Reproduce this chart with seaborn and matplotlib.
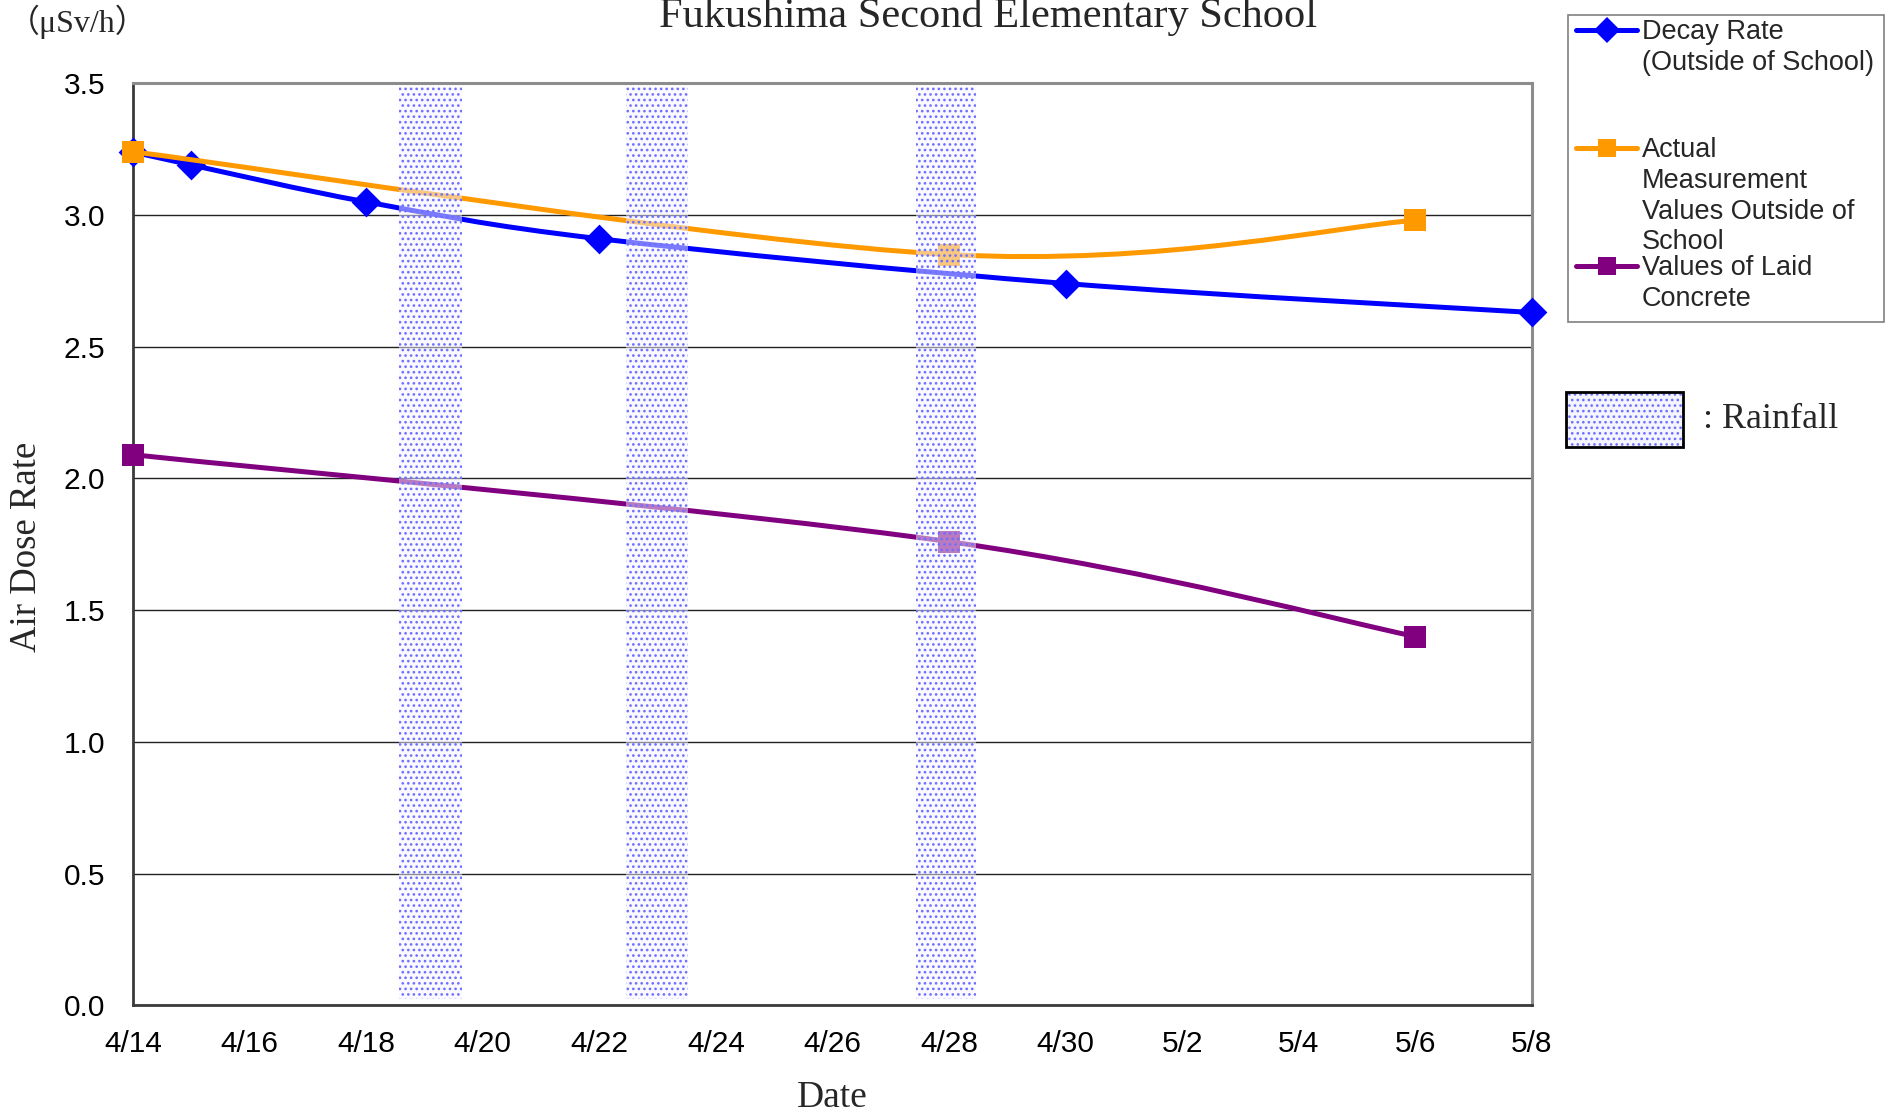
import numpy as np
import pandas as pd
import matplotlib
matplotlib.use("Agg")
import matplotlib.pyplot as plt
import seaborn as sns
from matplotlib.path import Path
from matplotlib.patches import PathPatch, Rectangle
from matplotlib.lines import Line2D

# ---------------- data ----------------
start_date = "2011-04-14"
decay_dates = ["2011-04-14", "2011-04-15", "2011-04-18", "2011-04-22", "2011-04-30", "2011-05-08"]
decay_values = [3.24, 3.19, 3.05, 2.91, 2.74, 2.63]
actual_dates = ["2011-04-14", "2011-04-28", "2011-05-06"]
actual_values = [3.24, 2.85, 2.98]
concrete_dates = ["2011-04-14", "2011-04-28", "2011-05-06"]
concrete_values = [2.09, 1.76, 1.40]
rain_start = ["2011-04-18 13:24", "2011-04-22 11:10", "2011-04-27 10:20"]
rain_end = ["2011-04-19 15:37", "2011-04-23 12:29", "2011-04-28 11:17"]
x_tick_labels = ["4/14", "4/16", "4/18", "4/20", "4/22", "4/24", "4/26", "4/28",
                 "4/30", "5/2", "5/4", "5/6", "5/8"]
y_ticks = [0.0, 0.5, 1.0, 1.5, 2.0, 2.5, 3.0, 3.5]
series_names = ["Decay Rate\n(Outside of School)",
                "Actual\nMeasurement\nValues Outside of\nSchool",
                "Values of Laid\nConcrete"]
series_colors = ["#0000FF", "#FF9900", "#800080"]
title = "Fukushima Second Elementary School"
unit_label = "（μSv/h）"
y_label = "Air Dose Rate"
x_label = "Date"
rain_label = ": Rainfall"

t0 = pd.Timestamp(start_date)
def to_days(lst):
    return [(pd.Timestamp(d) - t0).total_seconds() / 86400.0 for d in lst]

frames = []
for name, dts, vals in [(series_names[0], decay_dates, decay_values),
                        (series_names[1], actual_dates, actual_values),
                        (series_names[2], concrete_dates, concrete_values)]:
    frames.append(pd.DataFrame({"series": name, "day": to_days(dts), "value": vals}))
df = pd.concat(frames, ignore_index=True)

# ---------------- style ----------------
sns.set_style("white")
plt.rcParams["font.family"] = ["Liberation Sans", "DejaVu Sans"]
plt.rcParams["hatch.linewidth"] = 1.1

W, H = 1897, 1117
fig = plt.figure(figsize=(W / 100, H / 100), dpi=100, facecolor="white")
ax = fig.add_axes([133 / W, 1 - 1005.3 / H, (1532 - 133) / W, (1005.3 - 83.3) / H])


def smooth_path(xs, ys):
    pts = np.column_stack([xs, ys]).astype(float)
    n = len(pts)
    verts = [pts[0]]
    codes = [Path.MOVETO]
    for i in range(n - 1):
        p0 = pts[i - 1] if i > 0 else pts[i]
        p1 = pts[i]
        p2 = pts[i + 1]
        p3 = pts[i + 2] if i + 2 < n else pts[i + 1]
        c1 = p1 + (p2 - p0) / 6.0
        c2 = p2 - (p3 - p1) / 6.0
        verts += [c1, c2, p2]
        codes += [Path.CURVE4] * 3
    return Path(verts, codes)


markers = ["D", "s", "s"]
msizes = [230, 272, 272]
for k, name in enumerate(series_names):
    sub = df[df["series"] == name]
    z = 3 + k * 0.3
    ax.add_patch(PathPatch(smooth_path(sub["day"].values, sub["value"].values),
                           facecolor="none", edgecolor=series_colors[k], lw=3.6,
                           capstyle="round", joinstyle="round", zorder=z))
    sns.scatterplot(data=sub, x="day", y="value", marker=markers[k], s=msizes[k],
                    color=series_colors[k], edgecolor=series_colors[k], linewidth=0,
                    zorder=z + 0.1, ax=ax, legend=False)
    ax.collections[-1].set_clip_on(False)

# rainfall bands
for s, e in zip(to_days(rain_start), to_days(rain_end)):
    ax.axvspan(s, e, ymin=0.007, ymax=0.996, facecolor=(0.96, 0.96, 1.0, 0.5),
               edgecolor="#6e6eff", hatch="...", lw=0, zorder=6)

# axes
ax.set_xlim(0, 24)
ax.set_ylim(0, 3.5)
ax.set_xticks(np.arange(0, 25, 2))
ax.set_xticklabels(x_tick_labels)
ax.set_yticks(y_ticks)
ax.set_yticklabels([f"{v:.1f}" for v in y_ticks])
ax.tick_params(axis="both", direction="in", length=8, width=1.2, color="#333333",
               labelsize=21.5, labelcolor="black")
ax.tick_params(axis="y", pad=20)
ax.tick_params(axis="x", pad=18)
ax.yaxis.grid(True, color="#222222", lw=1.0)
ax.xaxis.grid(False)
ax.set_axisbelow(True)
for sp in ["left", "bottom"]:
    ax.spines[sp].set_color("#3a3a3a")
    ax.spines[sp].set_linewidth(2.0)
for sp in ["top", "right"]:
    ax.spines[sp].set_color("#8c8c8c")
    ax.spines[sp].set_linewidth(2.2)

ax.set_xlabel(x_label, family="Liberation Serif", fontsize=27)
ax.xaxis.set_label_coords(0.5, -0.10)
ax.xaxis.label.set_va("center")
ax.set_ylabel(y_label, family="Liberation Serif", fontsize=26.5)
ax.yaxis.label.set_va("center")
ax.yaxis.set_label_coords(-0.076, 0.497)

fig.text(988 / W, 1 - 27 / H, title, ha="center", va="baseline",
         family="Liberation Serif", fontsize=30.5)
fig.text(8 / W, 1 - 22 / H, unit_label, ha="left", va="center",
         family=["Liberation Serif", "Noto Sans CJK JP"], fontsize=23)

# ---------------- legend (pixel overlay) ----------------
lg = fig.add_axes([0, 0, 1, 1], zorder=10)
lg.set_xlim(0, W)
lg.set_ylim(H, 0)
lg.axis("off")
lg.patch.set_alpha(0)
lg.add_patch(Rectangle((1568, 14.5), 316, 307.5, facecolor="white",
                       edgecolor="#808080", lw=1.2))
handle_y = [30, 148, 266]
leg_markers = ["D", "s", "s"]
leg_ms = [13, 13, 13]
for k, name in enumerate(series_names):
    y = handle_y[k]
    lg.add_line(Line2D([1576, 1637], [y, y], color=series_colors[k], lw=3.6))
    lg.add_line(Line2D([1607], [y], marker=leg_markers[k], ms=leg_ms[k],
                       color=series_colors[k], mec=series_colors[k], mew=0))
    for j, line in enumerate(name.split("\n")):
        lg.text(1642, y + 2 + j * 30.8, line, ha="left", va="center",
                fontsize=19.5, family="Liberation Sans")

lg.add_patch(Rectangle((1566, 392), 117, 55, facecolor=(0.96, 0.96, 1.0),
                       edgecolor="#6e6eff", hatch="...", lw=0))
lg.add_patch(Rectangle((1566, 392), 117, 55, facecolor="none",
                       edgecolor="black", lw=2.0))
lg.text(1703, 420, rain_label, ha="left", va="center",
        family="Liberation Serif", fontsize=26)

fig.savefig("out.png", dpi=100, facecolor="white")
